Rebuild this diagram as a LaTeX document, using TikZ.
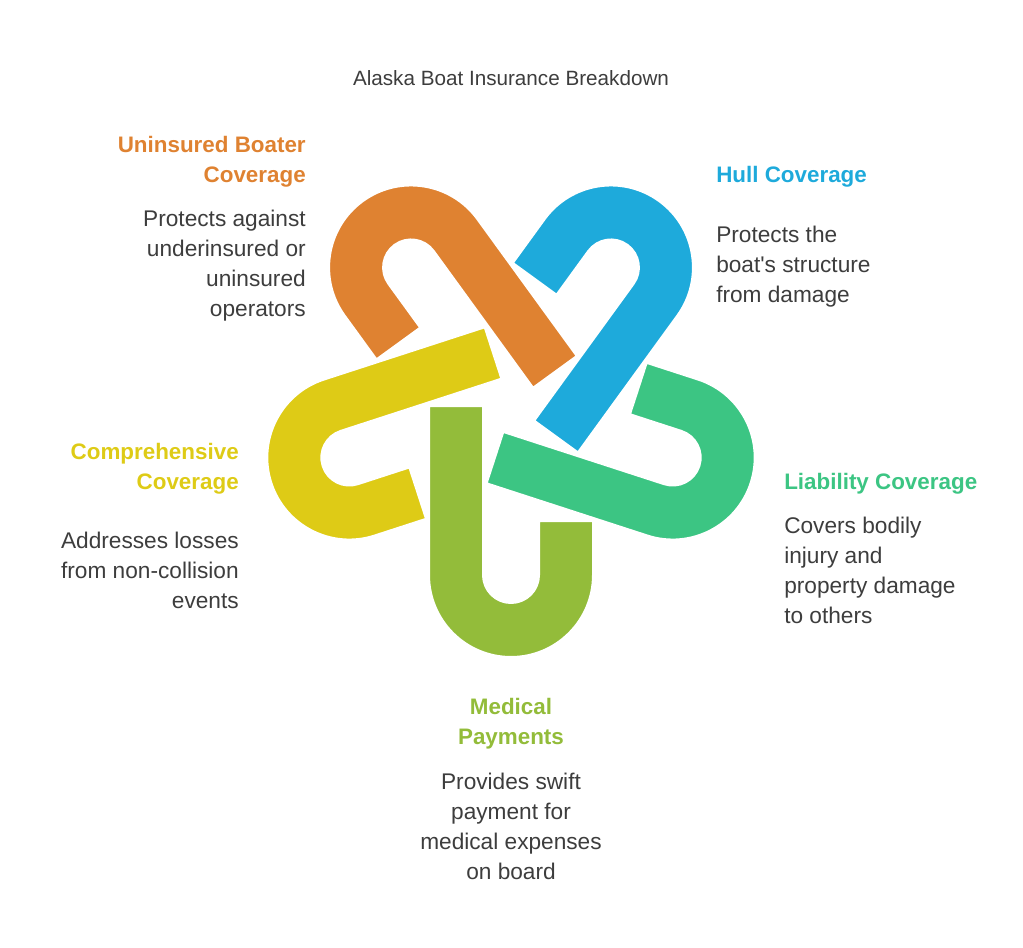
\documentclass[tikz,border=0pt]{standalone}
\usepackage{fontspec}
\setmainfont{Liberation Sans}
\definecolor{uorange}{HTML}{DF8231}
\definecolor{hblue}{HTML}{1EAADB}
\definecolor{lgreen}{HTML}{3CC583}
\definecolor{mlime}{HTML}{93BC3A}
\definecolor{cyellow}{HTML}{DECB16}
\definecolor{txt}{HTML}{3D3D3D}
\tikzset{
  band/.style={draw=white, line width=3pt, line join=round},
  head/.style={font=\bfseries\fontsize{16.8}{22.5}\selectfont, inner sep=0pt},
  body/.style={font=\fontsize{17}{22.5}\selectfont, text=txt, inner sep=0pt}
}
\newcommand{\ulink}[2]{%
  \begin{scope}[shift={(511,-405)}, rotate=#1]
    \fill[#2, band] (-83,-0) -- (-83,-170) arc[start angle=180, end angle=360, radius=83]
      -- (83,-115) -- (27,-115) -- (27,-170) arc[start angle=0, end angle=-180, radius=27]
      -- (-27,0) -- cycle;
  \end{scope}}
\begin{document}
\begin{tikzpicture}[x=0.75pt, y=0.75pt]
    \useasboundingbox (0,0) rectangle (1023,-948);
    % Title
    \node[body, font=\fontsize{15.5}{20}\selectfont] (title) at (511,-78) {Alaska Boat Insurance Breakdown};

    % Interlocking links
    \ulink{216}{uorange}
    \ulink{288}{cyellow}
    \ulink{0}{mlime}
    \ulink{72}{lgreen}
    \ulink{144}{hblue}

    % Uninsured boater
    \node[head, text=uorange, anchor=north east, align=right] (uhead) at (306,-136) {Uninsured Boater\\Coverage};
    \node[body, anchor=north east, align=right] (ubody) at (306,-210) {Protects against\\underinsured or\\uninsured\\operators};
    % Hull
    \node[head, text=hblue, anchor=north west, align=left] (hhead) at (716,-166) {Hull Coverage};
    \node[body, anchor=north west, align=left] (hbody) at (716,-226) {Protects the\\boat\textquotesingle s structure\\from damage};
    % Liability
    \node[head, text=lgreen, anchor=north west, align=left] (lhead) at (784,-473) {Liability Coverage};
    \node[body, anchor=north west, align=left] (lbody) at (784,-517) {Covers bodily\\injury and\\property damage\\to others};
    % Medical
    \node[head, text=mlime, anchor=north, align=center] (mhead) at (511,-698) {Medical\\Payments};
    \node[body, anchor=north, align=center] (mbody) at (511,-773) {Provides swift\\payment for\\medical expenses\\on board};
    % Comprehensive
    \node[head, text=cyellow, anchor=north east, align=right] (chead) at (239,-443) {Comprehensive\\Coverage};
    \node[body, anchor=north east, align=right] (cbody) at (239,-532) {Addresses losses\\from non-collision\\events};
\end{tikzpicture}
\end{document}
